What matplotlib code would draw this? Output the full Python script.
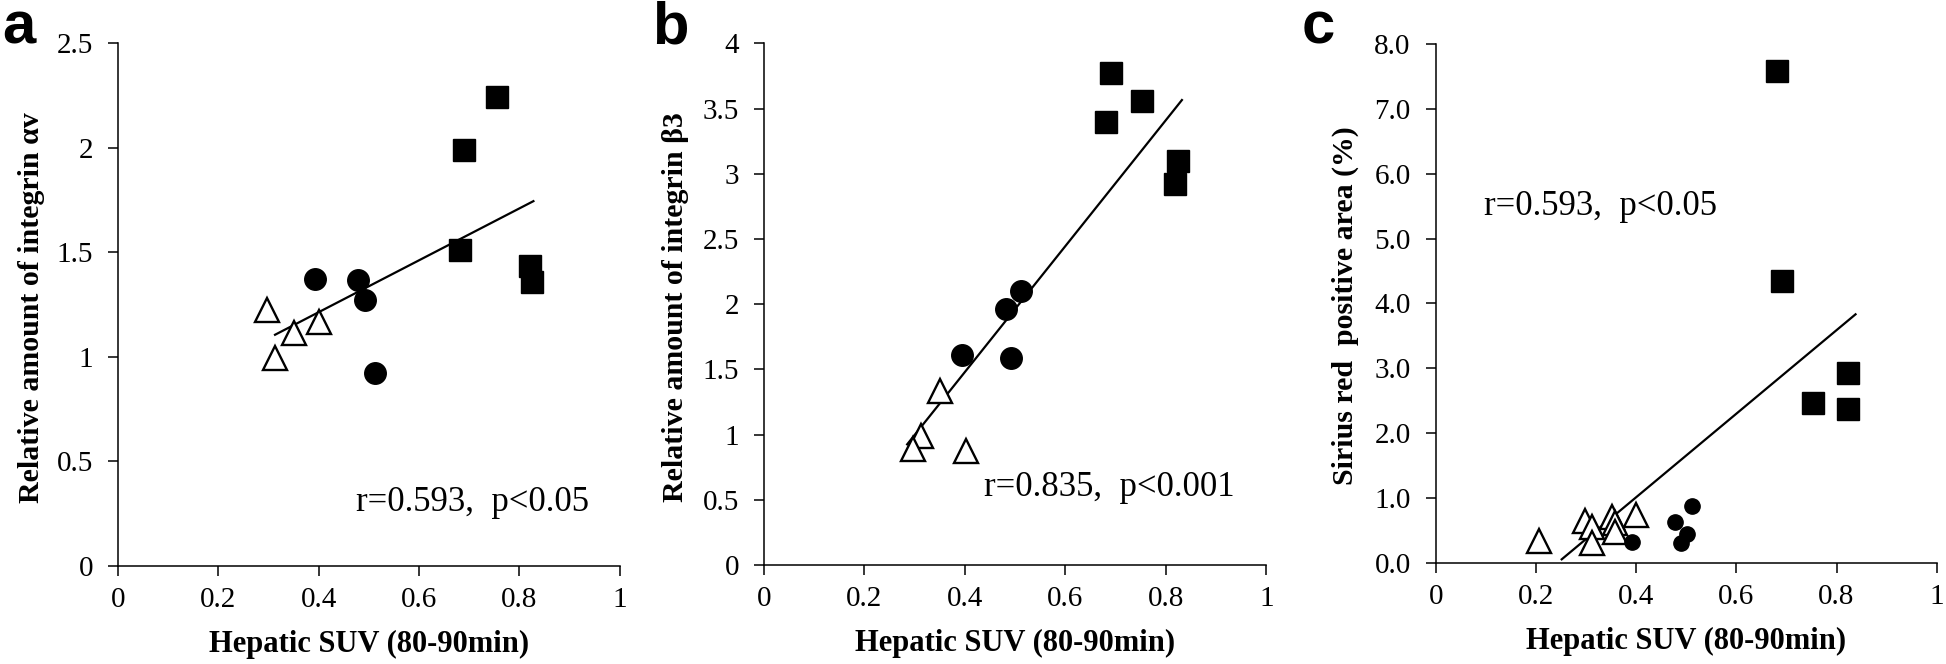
import matplotlib
matplotlib.use("Agg")
import matplotlib.pyplot as plt

plt.rcParams['font.family'] = ['Liberation Serif', 'DejaVu Serif']

# ---------------- data ----------------
# Panel a: integrin alpha-v
a_tri_x = [0.297, 0.312, 0.351, 0.400]
a_tri_y = [1.224, 0.994, 1.116, 1.167]
a_cir_x = [0.392, 0.479, 0.492, 0.512]
a_cir_y = [1.374, 1.366, 1.274, 0.923]
a_sq_x = [0.755, 0.689, 0.681, 0.822, 0.825]
a_sq_y = [2.242, 1.989, 1.512, 1.437, 1.360]
a_fit_x = [0.313, 0.828]
a_fit_y = [1.106, 1.745]

# Panel b: integrin beta3
b_tri_x = [0.351, 0.313, 0.297, 0.402]
b_tri_y = [1.334, 0.990, 0.893, 0.877]
b_cir_x = [0.394, 0.481, 0.512, 0.491]
b_cir_y = [1.607, 1.964, 2.101, 1.584]
b_sq_x = [0.690, 0.680, 0.753, 0.824, 0.818]
b_sq_y = [3.769, 3.396, 3.555, 3.101, 2.925]
b_fit_x = [0.285, 0.832]
b_fit_y = [0.925, 3.565]

# Panel c: Sirius red positive area
c_tri_x = [0.206, 0.298, 0.311, 0.311, 0.351, 0.358, 0.358, 0.400]
c_tri_y = [0.330, 0.650, 0.545, 0.310, 0.710, 0.620, 0.470, 0.740]
c_cir_x = [0.511, 0.478, 0.501, 0.490, 0.391]
c_cir_y = [0.879, 0.632, 0.438, 0.299, 0.320]
c_sq_x = [0.682, 0.692, 0.822, 0.753, 0.823]
c_sq_y = [7.584, 4.338, 2.922, 2.468, 2.370]
c_fit_x = [0.2515, 0.838]
c_fit_y = [0.052, 3.831]

x_ticks = [0, 0.2, 0.4, 0.6, 0.8, 1.0]
x_ticklabels = ["0", "0.2", "0.4", "0.6", "0.8", "1"]
a_yticks = [0, 0.5, 1, 1.5, 2, 2.5]
a_yticklabels = ["0", "0.5", "1", "1.5", "2", "2.5"]
b_yticks = [0, 0.5, 1, 1.5, 2, 2.5, 3, 3.5, 4]
b_yticklabels = ["0", "0.5", "1", "1.5", "2", "2.5", "3", "3.5", "4"]
c_yticks = [0, 1, 2, 3, 4, 5, 6, 7, 8]
c_yticklabels = ["0.0", "1.0", "2.0", "3.0", "4.0", "5.0", "6.0", "7.0", "8.0"]

xlabel = "Hepatic SUV (80-90min)"
ylabels = ["Relative amount of integrin αv",
           "Relative amount of integrin β3",
           "Sirius red  positive area (%)"]
annots = ["r=0.593,  p<0.05", "r=0.835,  p<0.001", "r=0.593,  p<0.05"]
annot_pos = [(0.475, 0.264), (0.4375, 0.529), (0.096, 5.357)]
letters = ["a", "b", "c"]

# ---------------- figure ----------------
fig = plt.figure(figsize=(19.46, 6.64), dpi=100)
rects = [
    [118 / 1946, (664 - 566) / 664, 501.7 / 1946, 522.7 / 664],
    [764 / 1946, (664 - 565) / 664, 502.3 / 1946, 521.7 / 664],
    [1435.7 / 1946, (664 - 562.7) / 664, 501.0 / 1946, 518.7 / 664],
]
panels = [
    (a_tri_x, a_tri_y, a_cir_x, a_cir_y, a_sq_x, a_sq_y, a_fit_x, a_fit_y,
     a_yticks, a_yticklabels, 2.5, 15.5),
    (b_tri_x, b_tri_y, b_cir_x, b_cir_y, b_sq_x, b_sq_y, b_fit_x, b_fit_y,
     b_yticks, b_yticklabels, 4.0, 15.5),
    (c_tri_x, c_tri_y, c_cir_x, c_cir_y, c_sq_x, c_sq_y, c_fit_x, c_fit_y,
     c_yticks, c_yticklabels, 8.0, 11.0),
]
ylabel_x = [-0.173, -0.176, -0.180]
letter_x = [2 / 1946, 652 / 1946, 1302 / 1946]

for i, (rect, p) in enumerate(zip(rects, panels)):
    (tx, ty, cx, cy, sx, sy, fx, fy, yt, ytl, ymax, cms) = p
    ax = fig.add_axes(rect)
    ax.plot(fx, fy, color='black', lw=1.6, zorder=2)
    ax.plot(tx, ty, linestyle='none', marker='^', ms=17, mfc='white',
            mec='black', mew=1.7, zorder=3)
    ax.plot(cx, cy, linestyle='none', marker='o', ms=cms, mfc='black',
            mec='black', mew=1, zorder=4)
    ax.plot(sx, sy, linestyle='none', marker='s', ms=15.5, mfc='black',
            mec='black', mew=1, zorder=4)
    ax.set_xlim(0, 1)
    ax.set_ylim(0, ymax)
    ax.set_xticks(x_ticks)
    ax.set_xticklabels(x_ticklabels)
    ax.set_yticks(yt)
    ax.set_yticklabels(ytl)
    for s in ['top', 'right']:
        ax.spines[s].set_visible(False)
    for s in ['left', 'bottom']:
        ax.spines[s].set_linewidth(1.1)
    ax.tick_params(axis='both', direction='out', length=7, width=1.1,
                   labelsize=21, colors='black')
    ax.tick_params(axis='y', pad=11)
    ax.tick_params(axis='x', pad=8)
    ax.set_xlabel(xlabel, fontsize=22, fontweight='bold', va='center')
    ax.xaxis.set_label_coords(0.5, -0.151)
    ax.set_ylabel(ylabels[i], fontsize=21.5, fontweight='bold', va='center')
    ax.yaxis.set_label_coords(ylabel_x[i], 0.495)
    ax.text(annot_pos[i][0], annot_pos[i][1], annots[i], fontsize=25,
            va='baseline', ha='left')
    ax.patch.set_alpha(0)
    fig.text(letter_x[i], (664 - 44) / 664, letters[i], fontsize=43,
             fontweight='bold', family=['Liberation Sans', 'DejaVu Sans'],
             va='baseline', ha='left')

fig.savefig("out.png", dpi=100)
